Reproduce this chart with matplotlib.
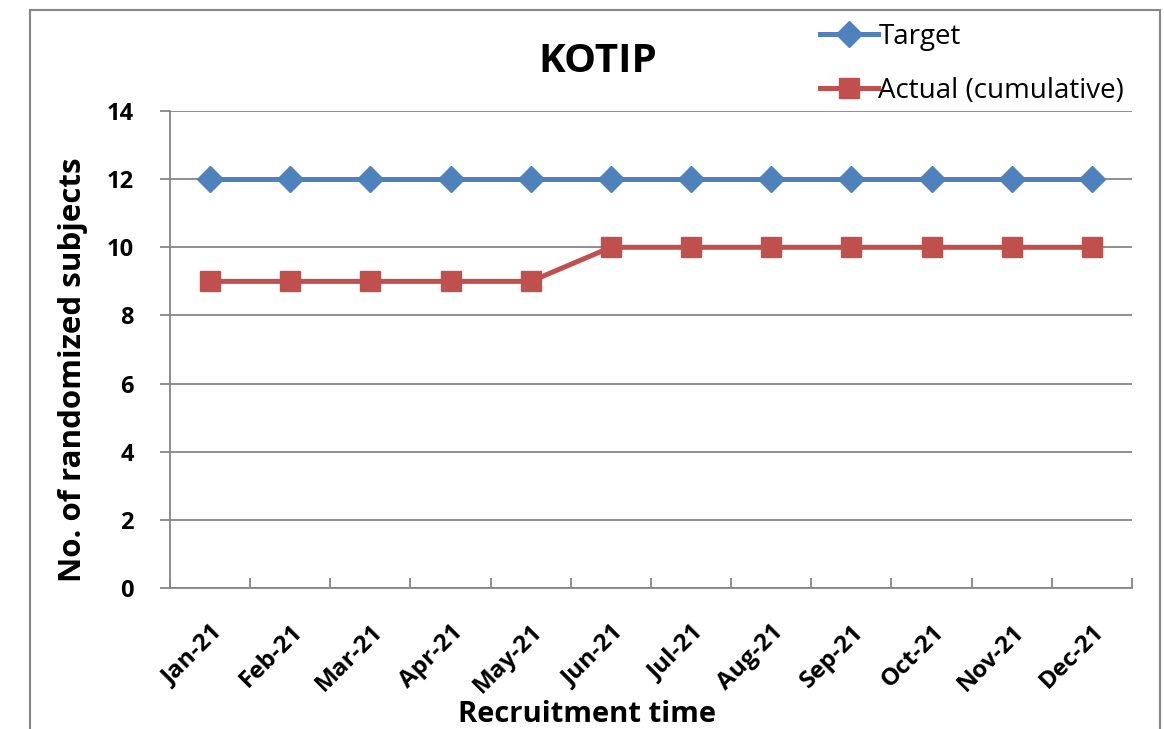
import matplotlib
matplotlib.use("Agg")
import matplotlib.pyplot as plt
from matplotlib.patches import Rectangle

# recruitment data
months = ["Jan-21", "Feb-21", "Mar-21", "Apr-21", "May-21", "Jun-21",
          "Jul-21", "Aug-21", "Sep-21", "Oct-21", "Nov-21", "Dec-21"]
target = [12, 12, 12, 12, 12, 12, 12, 12, 12, 12, 12, 12]
actual = [9, 9, 9, 9, 9, 10, 10, 10, 10, 10, 10, 10]
yticks = [0, 2, 4, 6, 8, 10, 12, 14]

blue = "#4F81BD"
red = "#C0504D"
grey = "#868686"

plt.rcParams['font.family'] = ['Open Sans', 'DejaVu Sans']

fig = plt.figure(figsize=(11.64, 7.29), dpi=100)
ax = fig.add_axes([0.146, 0.1934, 0.8265, 0.6543])

# chart border
fig.patches.append(Rectangle((30 / 1164, -0.05), 1130 / 1164, 1.05 - 10 / 729,
                             transform=fig.transFigure, fill=False,
                             edgecolor=grey, linewidth=1.5))

x = list(range(len(months)))
ax.plot(x, target, color=blue, linewidth=3.6, marker="D", markersize=13,
        label="Target", zorder=3)
ax.plot(x, actual, color=red, linewidth=3.6, marker="s", markersize=14,
        label="Actual (cumulative)", zorder=3)

ax.set_xlim(-0.5, len(months) - 0.5)
ax.set_ylim(0, 14)
ax.set_yticks(yticks)
ax.set_yticklabels([str(v) for v in yticks], fontsize=17, fontweight="bold")
ax.yaxis.grid(True, color=grey, linewidth=1.3)
ax.set_axisbelow(True)

# category labels centred, ticks at the boundaries
ax.set_xticks(x)
ax.set_xticklabels(months, rotation=45, ha="right", rotation_mode="anchor",
                   fontsize=17.5, fontweight="bold")
ax.tick_params(axis="x", length=0, pad=23)
ax.set_xticks([i + 0.5 for i in range(-1, len(months))], minor=True)
ax.tick_params(axis="x", which="minor", direction="in", length=7,
               color=grey, width=1.3)
ax.tick_params(axis="y", direction="out", length=7, color=grey, width=1.3,
               pad=19)

for side in ["top", "right"]:
    ax.spines[side].set_visible(False)
for side in ["left", "bottom"]:
    ax.spines[side].set_color(grey)
    ax.spines[side].set_linewidth(1.3)

fig.text(73 / 1164, 1 - 370 / 729, "No. of randomized subjects", fontsize=22.5,
         fontweight="bold", rotation=90, ha="center", va="center")
fig.text(587 / 1164, 1 - 714 / 729, "Recruitment time", fontsize=21,
         fontweight="bold", ha="center", va="center")
fig.text(598 / 1164, 1 - 62 / 729, "KOTIP", fontsize=29, fontweight="bold",
         ha="center", va="center")

fig.legend(loc="center left", bbox_to_anchor=(820 / 1164, 1 - 64 / 729),
           frameon=False, fontsize=20, handlelength=2.1, handletextpad=0.0,
           labelspacing=0.95, borderpad=0, borderaxespad=0)

fig.savefig("out.png", dpi=100)
